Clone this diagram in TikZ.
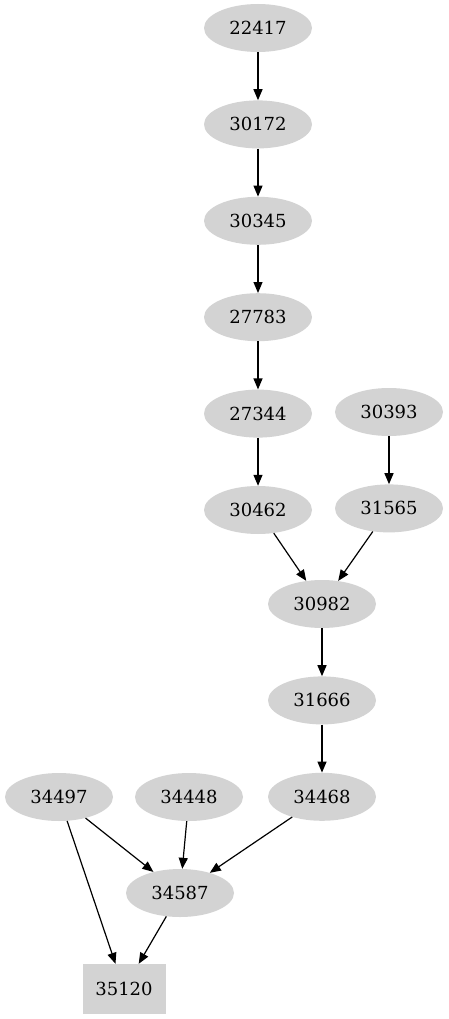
\documentclass[tikz,border=0pt]{standalone}
\usepackage{fontspec}
\setmainfont{DejaVu Serif}
\usepackage{tikz}
\usetikzlibrary{arrows.meta, positioning, shapes.geometric}
\definecolor{lightgray}{RGB}{211,211,211}

\begin{document}
\begin{tikzpicture}[
    x=1pt, y=-1pt,
    node distance=48pt,
    >={Triangle[length=11pt, width=9pt]},
    base/.style={
        fill=lightgray,
        draw=none,
        inner sep=0pt,
        font=\fontsize{18}{22}\selectfont
    },
    vertex/.style={base, ellipse, minimum width=108pt, minimum height=48pt},
    sink/.style={base, rectangle, minimum width=83pt, minimum height=50pt},
    edge/.style={->, line width=1.2pt}
]
    \useasboundingbox (0,0) rectangle (449,1019);

    % main chain
    \node[vertex] (n22417) at (258,28) {22417};
    \node[vertex, below=of n22417] (n30172) {30172};
    \node[vertex, below=of n30172] (n30345) {30345};
    \node[vertex, below=of n30345] (n27783) {27783};
    \node[vertex, below=of n27783] (n27344) {27344};
    \node[vertex, below=of n27344] (n30462) {30462};

    % side branch
    \node[vertex] (n30393) at (389,412) {30393};
    \node[vertex, below=of n30393] (n31565) {31565};

    \node[vertex] (n30982) at (322,604) {30982};
    \node[vertex, below=of n30982] (n31666) {31666};
    \node[vertex, below=of n31666] (n34468) {34468};

    % bottom part
    \node[vertex] (n34497) at (59,797) {34497};
    \node[vertex] (n34448) at (189,797) {34448};
    \node[vertex] (n34587) at (180,893) {34587};
    \node[sink] (n35120) at (124,989) {35120};

    \draw[edge] (n22417) -- (n30172);
    \draw[edge] (n30172) -- (n30345);
    \draw[edge] (n30345) -- (n27783);
    \draw[edge] (n27783) -- (n27344);
    \draw[edge] (n27344) -- (n30462);
    \draw[edge] (n30393) -- (n31565);
    \draw[edge] (n30462) -- (n30982);
    \draw[edge] (n31565) -- (n30982);
    \draw[edge] (n30982) -- (n31666);
    \draw[edge] (n31666) -- (n34468);
    \draw[edge] (n34497) -- (n34587);
    \draw[edge] (n34448) -- (n34587);
    \draw[edge] (n34468) -- (n34587);
    \draw[edge] (n34497) -- (n35120);
    \draw[edge] (n34587) -- (n35120);

\end{tikzpicture}
\end{document}
